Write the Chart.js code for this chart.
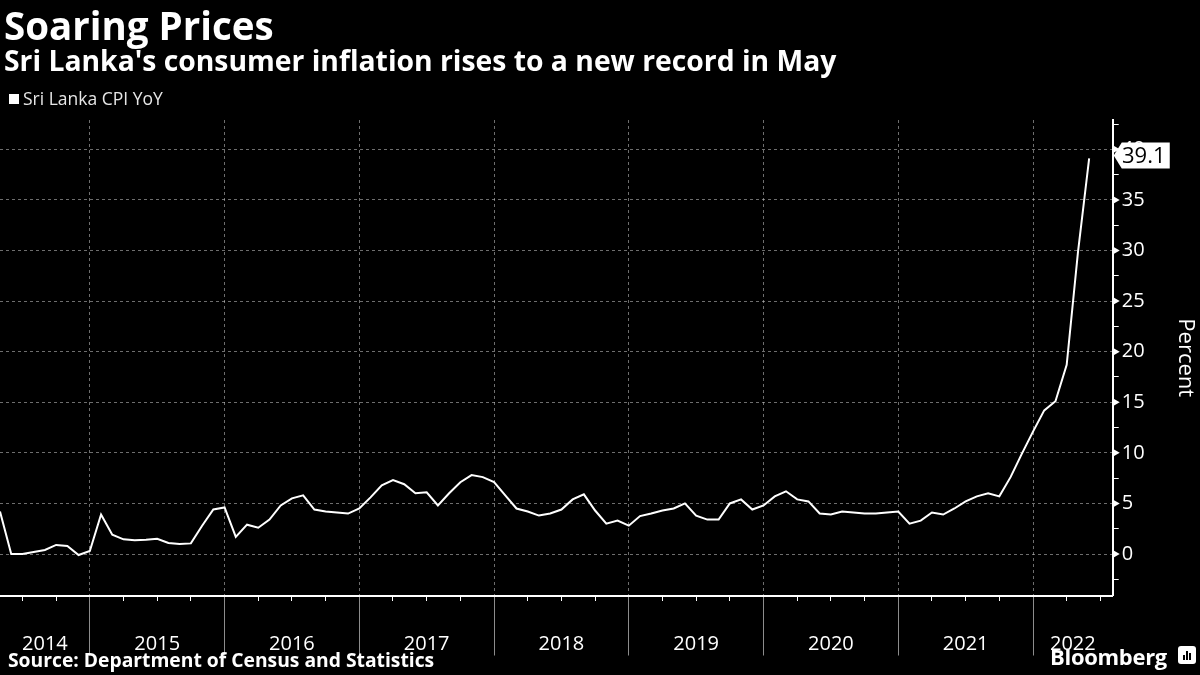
<!DOCTYPE html>
<html>
<head>
<meta charset="utf-8">
<script src="https://cdn.jsdelivr.net/npm/chart.js@4.4.1/dist/chart.umd.min.js"></script>
<style>
  html, body { margin: 0; padding: 0; background: #000; }
  body { width: 1200px; height: 675px; position: relative; overflow: hidden; font-family: 'Open Sans', sans-serif; color: #fff; }
  #chart { position: absolute; left: 0; top: 0; }
  .txt { position: absolute; white-space: nowrap; line-height: 1; }
  #title { left: 4px; top: 6px; font-size: 38.5px; font-weight: 700; }
  #subtitle { left: 4px; top: 46px; font-size: 28.3px; font-weight: 700; }
  #legend { left: 9px; top: 90px; font-size: 17.5px; color: #e6e6e6; }
  #legend .swatch { display: inline-block; width: 10px; height: 10px; background: #fff; margin-right: 4px; vertical-align: 1px; }
  #source { left: 8px; top: 650px; font-size: 19.3px; font-weight: 700; }
  #brand { right: 33px; top: 645px; font-size: 22px; font-weight: 700; letter-spacing: -0.3px; }
  #icon { position: absolute; left: 1178px; top: 646px; width: 18px; height: 18px; background: #fff; border-radius: 3px; }
  #icon i { position: absolute; bottom: 4px; width: 2px; background: #000; }
</style>
</head>
<body>
<canvas id="chart" width="1200" height="675"></canvas>
<div class="txt" id="title">Soaring Prices</div>
<div class="txt" id="subtitle">Sri Lanka's consumer inflation rises to a new record in May</div>
<div class="txt" id="legend"><span class="swatch"></span>Sri Lanka CPI YoY</div>
<div class="txt" id="source">Source: Department of Census and Statistics</div>
<div class="txt" id="brand">Bloomberg</div>
<div id="icon"><i style="left:5px;height:5px"></i><i style="left:8px;height:9px"></i><i style="left:11px;height:7px"></i></div>
<script>
// monthly readings, plotted at the end of each month
const months = [
  '2014-04','2014-05','2014-06','2014-07','2014-08','2014-09','2014-10','2014-11','2014-12',
  '2015-01','2015-02','2015-03','2015-04','2015-05','2015-06','2015-07','2015-08','2015-09','2015-10','2015-11','2015-12',
  '2016-01','2016-02','2016-03','2016-04','2016-05','2016-06','2016-07','2016-08','2016-09','2016-10','2016-11','2016-12',
  '2017-01','2017-02','2017-03','2017-04','2017-05','2017-06','2017-07','2017-08','2017-09','2017-10','2017-11','2017-12',
  '2018-01','2018-02','2018-03','2018-04','2018-05','2018-06','2018-07','2018-08','2018-09','2018-10','2018-11','2018-12',
  '2019-01','2019-02','2019-03','2019-04','2019-05','2019-06','2019-07','2019-08','2019-09','2019-10','2019-11','2019-12',
  '2020-01','2020-02','2020-03','2020-04','2020-05','2020-06','2020-07','2020-08','2020-09','2020-10','2020-11','2020-12',
  '2021-01','2021-02','2021-03','2021-04','2021-05','2021-06','2021-07','2021-08','2021-09','2021-10','2021-11','2021-12',
  '2022-01','2022-02','2022-03','2022-04','2022-05'
];
const cpiYoY = [
  4.2, 0.0, 0.0, 0.2, 0.4, 0.9, 0.8, -0.1, 0.3,
  3.9, 1.9, 1.45, 1.35, 1.4, 1.5, 1.1, 1.0, 1.05, 2.8, 4.4, 4.6,
  1.7, 2.9, 2.6, 3.4, 4.8, 5.5, 5.8, 4.4, 4.2, 4.1, 4.0, 4.5,
  5.6, 6.8, 7.3, 6.9, 6.0, 6.1, 4.8, 6.0, 7.1, 7.8, 7.6, 7.1,
  5.8, 4.5, 4.2, 3.8, 4.0, 4.4, 5.4, 5.9, 4.3, 3.0, 3.3, 2.8,
  3.75, 4.0, 4.3, 4.5, 5.0, 3.8, 3.4, 3.4, 5.0, 5.4, 4.4, 4.8,
  5.7, 6.2, 5.4, 5.2, 4.0, 3.9, 4.2, 4.1, 4.0, 4.0, 4.1, 4.2,
  3.0, 3.3, 4.1, 3.9, 4.5, 5.2, 5.7, 6.0, 5.7, 7.6, 9.9, 12.1,
  14.2, 15.1, 18.7, 29.8, 39.1
];
const yearLabels = ['2014','2015','2016','2017','2018','2019','2020','2021','2022'];
const yTickLabels = [0, 5, 10, 15, 20, 25, 30, 35, 40];

const BASE_YEAR = 2014;
const X_MIN = 4, X_MAX = 103.1;     // months since Jan 2014
const Y_MIN = -4.1, Y_MAX = 42.9;
const GRID = 'rgba(200,200,200,0.55)';

// end of month -> months since start of 2014
function monthPos(m) {
  const [yr, mo] = m.split('-').map(Number);
  return (yr - BASE_YEAR) * 12 + mo;
}

const points = months.map((m, i) => ({ x: monthPos(m), y: cpiYoY[i] }));

// year separators, centred year labels, quarter marks
const yearBounds = yearLabels.slice(1).map(y => (Number(y) - BASE_YEAR) * 12);
const yearAt = new Map();
yearLabels.forEach(y => {
  const start = Math.max((Number(y) - BASE_YEAR) * 12, X_MIN);
  const end = Math.min((Number(y) - BASE_YEAR + 1) * 12, X_MAX);
  yearAt.set((start + end) / 2, y);
});
const labelTicks = [...yearAt.keys()];
const quarterTicks = [];
for (let v = Math.ceil(X_MIN / 3) * 3; v <= X_MAX; v += 3) {
  if (v % 12 !== 0) quarterTicks.push(v);
}
const yTicks = [];
for (let v = -2.5; v <= Y_MAX; v += 2.5) yTicks.push(v);

const isMajor = v => yTickLabels.includes(v);

// little arrow heads on the value axis + tag for the latest reading
const axisMarks = {
  id: 'axisMarks',
  afterDraw(chart) {
    const { ctx, chartArea, scales: { y } } = chart;
    const ax = chartArea.right;
    ctx.save();
    ctx.fillStyle = '#fff';
    yTickLabels.forEach(v => {
      const py = y.getPixelForValue(v);
      ctx.beginPath();
      ctx.moveTo(ax, py - 4);
      ctx.lineTo(ax + 7, py);
      ctx.lineTo(ax, py + 4);
      ctx.closePath();
      ctx.fill();
    });

    const meta = chart.getDatasetMeta(0);
    const last = meta.data[meta.data.length - 1];
    const cy = last.y - 3;
    ctx.beginPath();
    ctx.moveTo(ax + 1, cy);
    ctx.lineTo(ax + 9, cy - 13);
    ctx.lineTo(ax + 57, cy - 13);
    ctx.lineTo(ax + 57, cy + 13);
    ctx.lineTo(ax + 9, cy + 13);
    ctx.closePath();
    ctx.fill();
    ctx.fillStyle = '#000';
    ctx.font = '22px "Open Sans"';
    ctx.textAlign = 'center';
    ctx.textBaseline = 'middle';
    ctx.fillText(cpiYoY[cpiYoY.length - 1].toFixed(1), ax + 31, cy + 1);
    ctx.restore();
  }
};

const noSidePadding = s => { s.paddingLeft = 0; s.paddingRight = 0; };

function draw() {
  Chart.defaults.font.family = "'Open Sans', sans-serif";
  Chart.defaults.color = '#fff';

  new Chart(document.getElementById('chart'), {
    type: 'line',
    data: {
      datasets: [{
        label: 'Sri Lanka CPI YoY',
        data: points,
        borderColor: '#fff',
        borderWidth: 2,
        pointRadius: 0,
        tension: 0,
        fill: false
      }]
    },
    options: {
      responsive: false,
      animation: false,
      devicePixelRatio: 1,
      layout: { padding: { top: 120, bottom: 19.5, left: 0, right: 0 } },
      plugins: { legend: { display: false }, tooltip: { enabled: false } },
      scales: {
        // axis line, dashed year grid and long year separators
        x: {
          type: 'linear',
          min: X_MIN,
          max: X_MAX,
          afterBuildTicks: s => { s.ticks = yearBounds.map(v => ({ value: v })); },
          afterFit: noSidePadding,
          grid: { color: GRID, tickColor: '#8c8c8c', tickLength: 60, lineWidth: 1 },
          border: { color: '#fff', width: 2, dash: [3, 3] },
          ticks: { display: false }
        },
        // short quarter marks
        xq: {
          axis: 'x',
          type: 'linear',
          position: { y: Y_MIN },
          min: X_MIN,
          max: X_MAX,
          afterBuildTicks: s => { s.ticks = quarterTicks.map(v => ({ value: v })); },
          afterFit: noSidePadding,
          grid: { drawOnChartArea: false, tickLength: 5, tickColor: '#fff' },
          border: { display: false },
          ticks: { display: false }
        },
        // year names centred in each year
        xl: {
          axis: 'x',
          type: 'linear',
          position: { y: Y_MIN },
          min: X_MIN,
          max: X_MAX,
          afterBuildTicks: s => { s.ticks = labelTicks.map(v => ({ value: v })); },
          afterFit: noSidePadding,
          grid: { display: false, drawTicks: false },
          border: { display: false },
          ticks: {
            autoSkip: false,
            maxRotation: 0,
            padding: 37,
            color: '#fff',
            font: { size: 20 },
            callback: v => yearAt.get(v) || ''
          }
        },
        y: {
          type: 'linear',
          position: 'right',
          min: Y_MIN,
          max: Y_MAX,
          afterBuildTicks: s => { s.ticks = yTicks.map(v => ({ value: v })); },
          grid: {
            color: c => isMajor(c.tick.value) ? GRID : 'transparent',
            tickColor: c => isMajor(c.tick.value) ? 'transparent' : '#fff',
            tickLength: 6
          },
          border: { color: '#fff', width: 2, dash: [3, 3] },
          ticks: {
            autoSkip: false,
            padding: 3,
            color: '#fff',
            font: { size: 20 },
            callback: v => isMajor(v) ? String(v) : ''
          },
          title: {
            display: true,
            text: 'Percent',
            color: '#fff',
            font: { size: 22 },
            padding: { top: 2, bottom: 24 }
          }
        }
      }
    },
    plugins: [axisMarks]
  });
}

Promise.all([
  document.fonts.load('20px "Open Sans"'),
  document.fonts.load('bold 20px "Open Sans"')
]).then(draw, draw);
</script>
</body>
</html>
